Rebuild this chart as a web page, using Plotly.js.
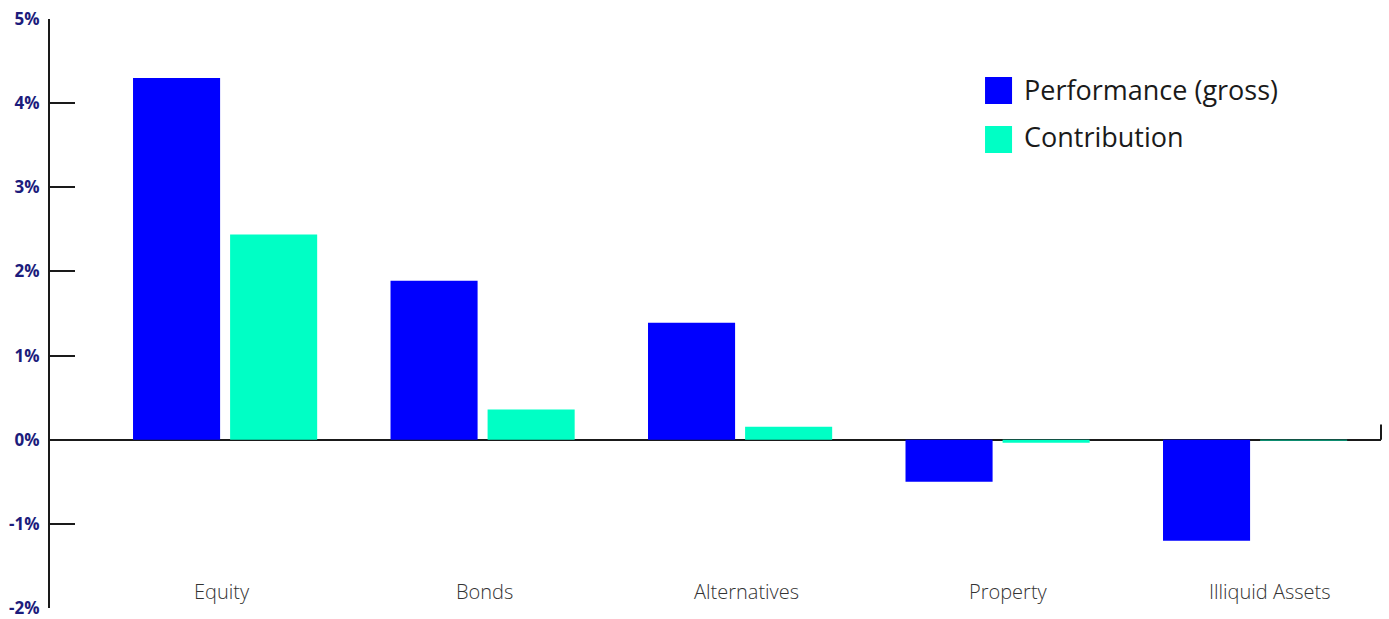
<!DOCTYPE html>
<html>
<head>
<meta charset="utf-8">
<script src="https://cdn.plot.ly/plotly-3.0.1.min.js"></script>
<style>html,body{margin:0;padding:0;background:#fff;}#chart{width:1389px;height:619px;}</style>
</head>
<body>
<div id="chart"></div>
<script>
const categories = ["Equity", "Bonds", "Alternatives", "Property", "Illiquid Assets"];
const performance = [4.30, 1.89, 1.39, -0.50, -1.20];
const contribution = [2.44, 0.36, 0.155, -0.035, -0.01];
const seriesNames = ["Performance (gross)", "Contribution"];
const seriesColors = ["#0000FF", "#00FFC5"];
const yTickVals = [-2, -1, 0, 1, 2, 3, 4, 5];
const yTickText = ["-2%", "-1%", "0%", "1%", "2%", "3%", "4%", "5%"];

const traces = [
  {type: "bar", x: categories, y: performance, name: seriesNames[0], marker: {color: seriesColors[0]}, showlegend: false, hoverinfo: "none"},
  {type: "bar", x: categories, y: contribution, name: seriesNames[1], marker: {color: seriesColors[1]}, showlegend: false, hoverinfo: "none"}
];

// category labels placed on an invisible overlay axis (labels are spaced slightly wider than the bar groups)
const annotations = categories.map((c, i) => ({
  x: i, y: -1.80, xref: "x2", yref: "y", text: c, showarrow: false,
  xanchor: "center", yanchor: "middle",
  font: {family: "Open Sans", size: 20, color: "#333333", weight: 300}
}));

const legendSwatchY = [[0.9015, 0.8557], [0.8183, 0.7725]];
const legendTextY = [0.8795, 0.8005];
const shapes = [
  {type: "line", xref: "paper", yref: "y", x0: 1, x1: 1, y0: 0, y1: 0.18, line: {color: "#1a1a1a", width: 2}}
];
seriesNames.forEach((n, i) => {
  shapes.push({type: "rect", xref: "paper", yref: "paper", x0: 0.7025, x1: 0.7228, y0: legendSwatchY[i][1], y1: legendSwatchY[i][0], fillcolor: seriesColors[i], line: {width: 0}});
  annotations.push({x: 0.7302, y: legendTextY[i], xref: "paper", yref: "paper", text: n, showarrow: false, xanchor: "left", yanchor: "middle", font: {family: "Open Sans", size: 27, color: "#1a1a1a"}});
});

const layout = {
  width: 1389, height: 619,
  margin: {l: 50, r: 8, t: 19, b: 11, pad: 0},
  paper_bgcolor: "#fff", plot_bgcolor: "#fff",
  barmode: "group", bargap: 0.246, bargroupgap: 0.103,
  showlegend: false,
  xaxis: {range: [-0.68, 4.489], showticklabels: false, showline: false, zeroline: false, showgrid: false, ticks: "", fixedrange: true},
  xaxis2: {type: "linear", overlaying: "x", range: [-0.657, 4.423], visible: false, fixedrange: true},
  yaxis: {
    range: [-2, 5], tickvals: yTickVals, ticktext: yTickText,
    ticks: "inside", ticklen: 25, tickwidth: 2, tickcolor: "#1a1a1a",
    showline: true, linecolor: "#1a1a1a", linewidth: 2,
    zeroline: true, zerolinecolor: "#1a1a1a", zerolinewidth: 2,
    showgrid: false, ticklabelstandoff: 5,
    tickfont: {family: "Open Sans", size: 17, color: "#1c1c7c", weight: 700}
  },
  annotations: annotations,
  shapes: shapes
};

Plotly.newPlot("chart", traces, layout, {displayModeBar: false, staticPlot: true});
</script>
</body>
</html>
